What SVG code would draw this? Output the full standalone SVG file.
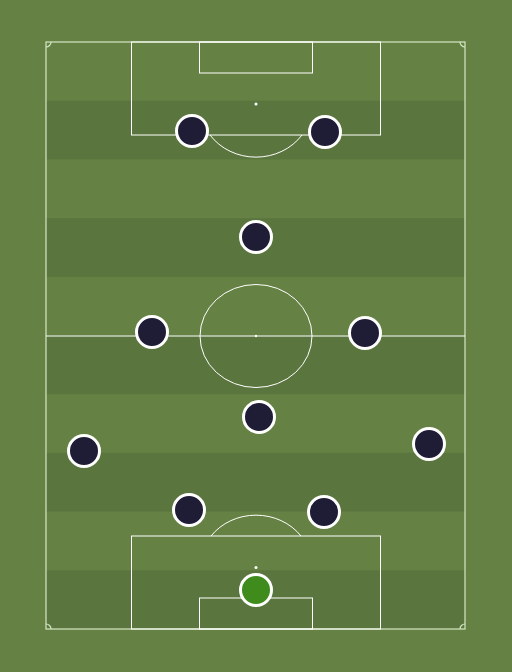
<svg xmlns="http://www.w3.org/2000/svg" width="512" height="672" viewBox="0 0 512 672">
<style>
.stripe{fill:#5a763e}
.line{fill:none;stroke:#ffffff;stroke-width:1}
.outer{fill:none;stroke:#d6e6c4;stroke-width:1.2}
.spot{fill:#ffffff}
.player{fill:#1f1d35;stroke:#ffffff;stroke-width:3}
.gk{fill:#3f8c1c;stroke:#ffffff;stroke-width:3}
</style>
<rect x="0" y="0" width="512" height="672" fill="#658244"/>
<g id="stripes">
<rect class="stripe" x="46" y="100.7" width="419" height="58.7"/>
<rect class="stripe" x="46" y="218.1" width="419" height="58.7"/>
<rect class="stripe" x="46" y="335.5" width="419" height="58.7"/>
<rect class="stripe" x="46" y="452.9" width="419" height="58.7"/>
<rect class="stripe" x="46" y="570.3" width="419" height="58.7"/>
</g>
<g id="markings">
<rect class="outer" x="46" y="42" width="419" height="587"/>
<path class="outer" d="M46,47 A5,5 0 0 0 51,42 M460,42 A5,5 0 0 0 465,47 M465,624 A5,5 0 0 0 460,629 M51,629 A5,5 0 0 0 46,624"/>
<line class="line" x1="46" y1="336" x2="465" y2="336"/>
<ellipse class="line" cx="256" cy="336" rx="56" ry="51.5"/>
<circle class="spot" cx="256" cy="336" r="1.2"/>
<rect class="line" x="131.5" y="42" width="249" height="93"/>
<rect class="line" x="199.5" y="42" width="113" height="31"/>
<circle class="spot" cx="256" cy="104" r="1.5"/>
<path class="line" d="M210,135 A56,51.5 0 0 0 302,135"/>
<rect class="line" x="131.5" y="536" width="249" height="93"/>
<rect class="line" x="199.5" y="598" width="113" height="31"/>
<circle class="spot" cx="256" cy="567.5" r="1.5"/>
<path class="line" d="M211,536 A56,51.5 0 0 1 301,536"/>
</g>
<g id="players">
<circle id="p1" class="player" cx="192" cy="131" r="15.5"/>
<circle id="p2" class="player" cx="325" cy="132" r="15.5"/>
<circle id="p3" class="player" cx="256" cy="237" r="15.5"/>
<circle id="p4" class="player" cx="152" cy="332" r="15.5"/>
<circle id="p5" class="player" cx="365" cy="333" r="15.5"/>
<circle id="p6" class="player" cx="259" cy="417" r="15.5"/>
<circle id="p7" class="player" cx="84" cy="451" r="15.5"/>
<circle id="p8" class="player" cx="429" cy="444" r="15.5"/>
<circle id="p9" class="player" cx="189" cy="510" r="15.5"/>
<circle id="p10" class="player" cx="324" cy="512" r="15.5"/>
<circle id="gk" class="gk" cx="256" cy="590" r="15.5"/>
</g>
</svg>
